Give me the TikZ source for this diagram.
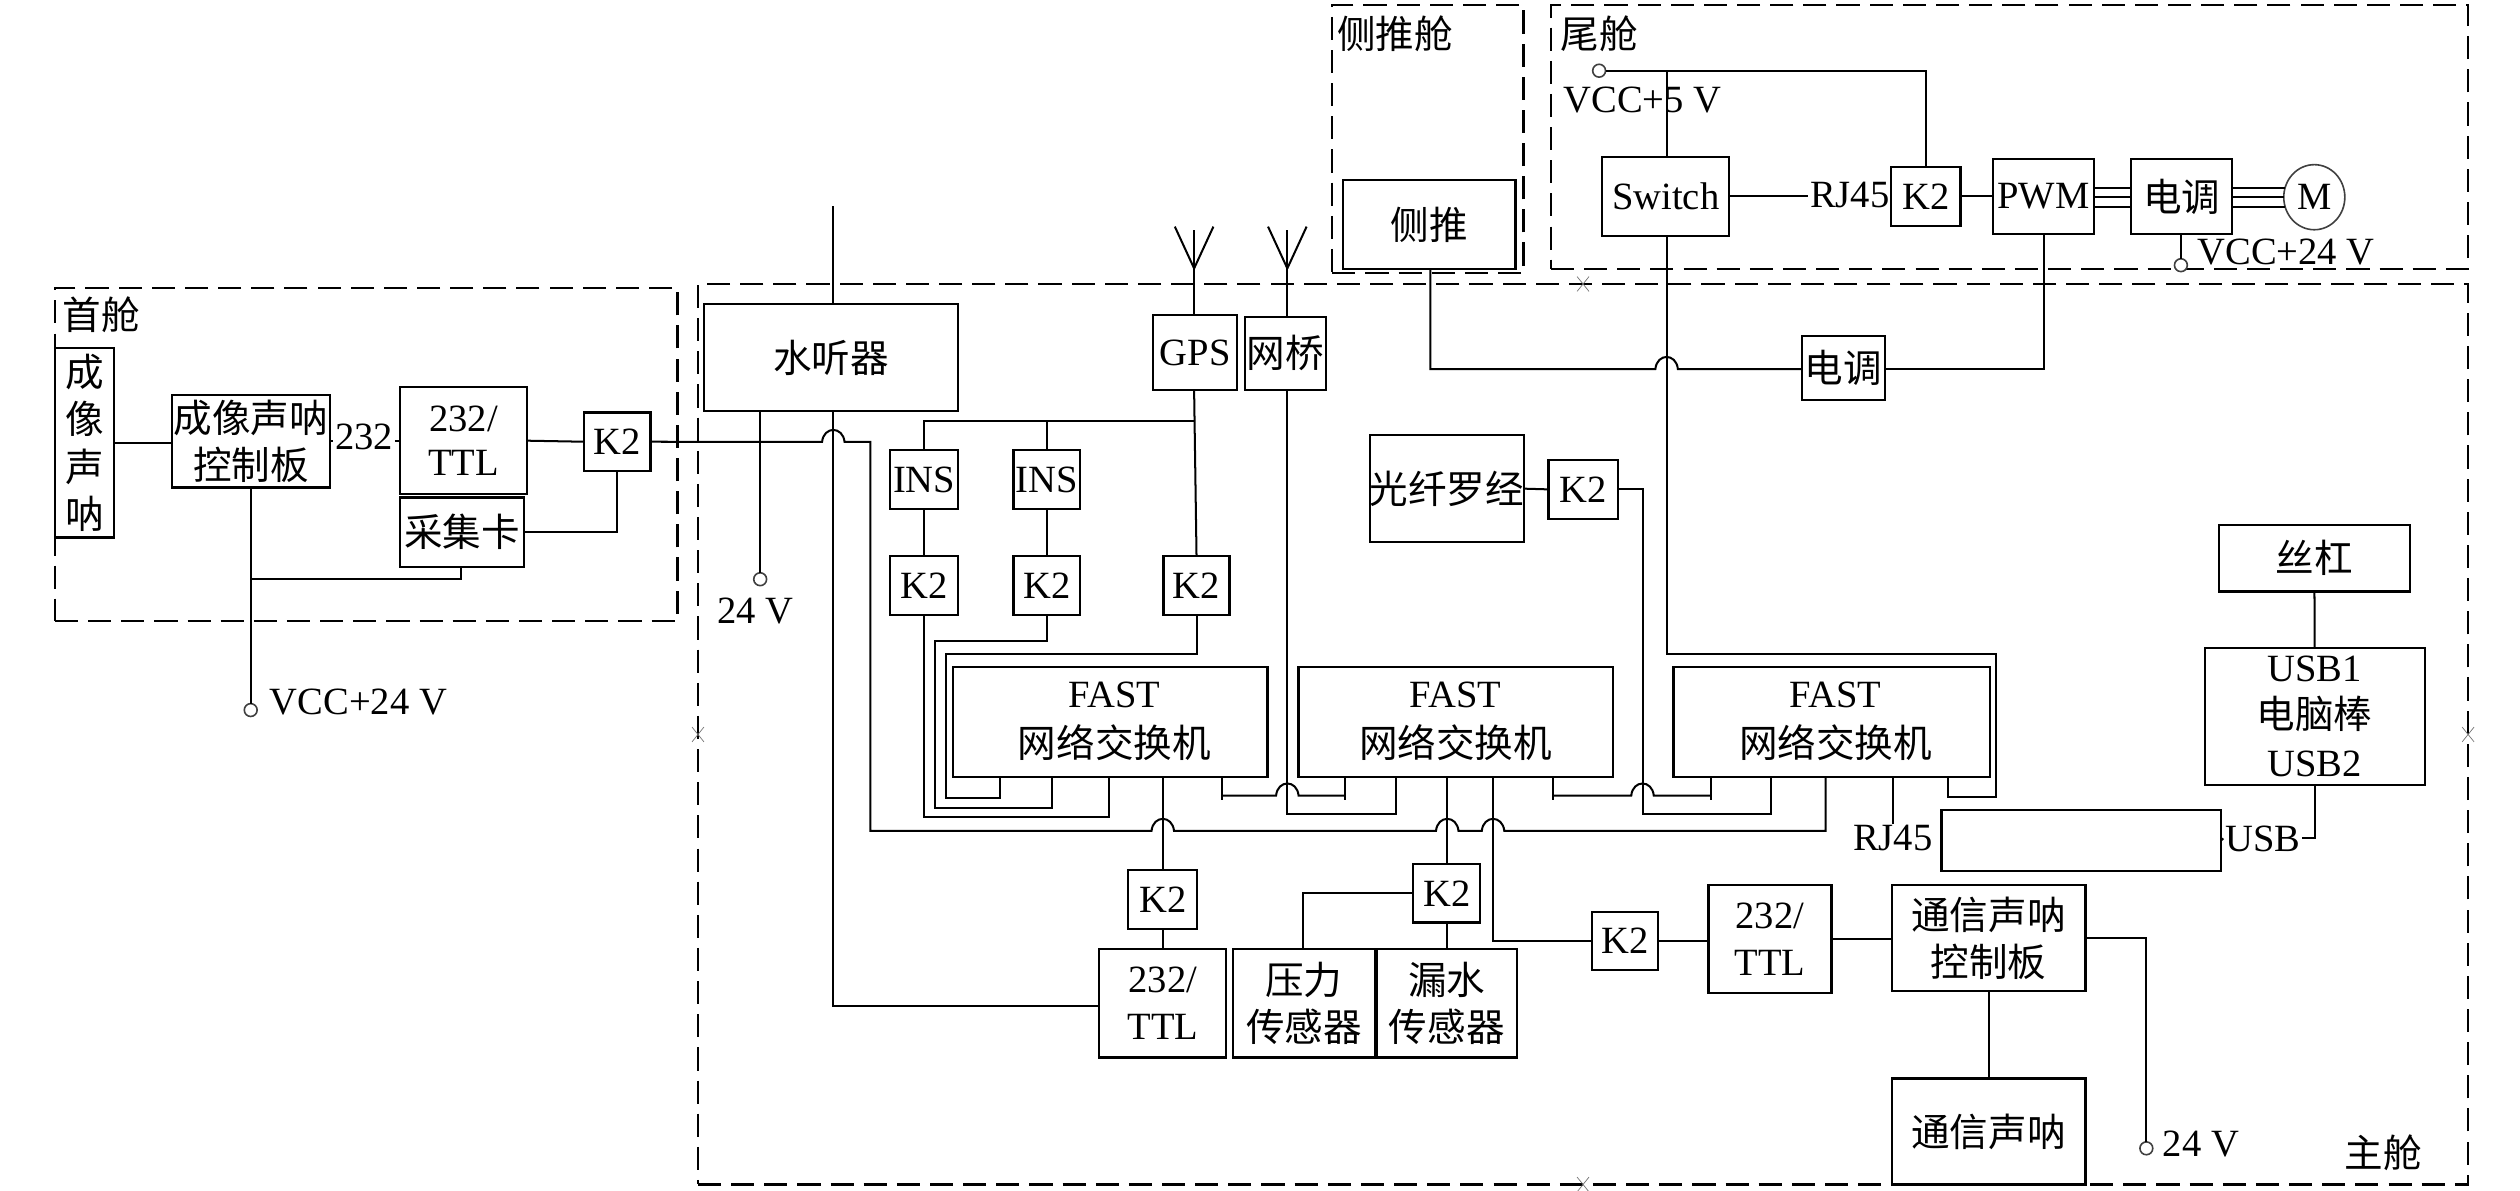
\documentclass[tikz,border=0pt]{standalone}
\usepackage{fontspec}
\setmainfont{Liberation Serif}
\newfontfamily\cjk{Noto Sans CJK SC}
\usetikzlibrary{shapes.geometric}
\newcommand\zh[1]{{\cjk #1}}
\newcommand\fsz{\fontsize{19.2}{23.5}\selectfont}
\tikzset{
  boxs/.style={draw=black,line width=1.1pt,fill=white,inner sep=0pt,outer sep=0pt,align=center,font=\fsz},
  zone/.style={draw=black,line width=1.1pt,dash pattern=on 11.5pt off 5pt,inner sep=0pt,outer sep=0pt},
  wire/.style={draw=black,line width=1pt,line cap=butt,line join=miter},
  term/.style={circle,draw=black!75,line width=0.8pt,fill=white,minimum size=6.4pt,inner sep=0pt,outer sep=0pt},
  lab/.style={inner sep=1pt,outer sep=0pt,font=\fsz,align=center},
  xmk/.style={draw=black!55,line width=0.35pt}
}
\newcommand\boxat[6]{%
  \pgfmathsetmacro\bxw{(#4-#2)*0.8}\pgfmathsetmacro\bxh{(#5-#3)*0.8}%
  \node[boxs,minimum width=\bxw pt,minimum height=\bxh pt] (#1) at ({(#2+#4)/2},{(#3+#5)/2}) {#6};}
\newcommand\zoneat[5]{%
  \pgfmathsetmacro\bxw{(#4-#2)*0.8}\pgfmathsetmacro\bxh{(#5-#3)*0.8}%
  \node[zone,minimum width=\bxw pt,minimum height=\bxh pt] (#1) at ({(#2+#4)/2},{(#3+#5)/2}) {};}
\newcommand\hmp[2]{-- ({#1-7},#2) .. controls ({#1-6},{#2-10}) and ({#1+6},{#2-10}) .. ({#1+7},#2)}
\newcommand\xm[2]{\draw[xmk] ({#1-3.7},{#2-4.6}) -- ({#1+3.7},{#2+4.6}) ({#1-3.7},{#2+4.6}) -- ({#1+3.7},{#2-4.6});}
\begin{document}
\begin{tikzpicture}[x=0.8pt,y=-0.8pt]
\useasboundingbox (0,0) rectangle (1568,740.5);
% zones
\zoneat{zbow}{34.2}{179}{421.6}{386.3}
\zoneat{zmain}{434.3}{176.7}{1535.7}{737}
\zoneat{zside}{829}{3}{948}{170}
\zoneat{ztail}{965}{3}{1535.7}{167.4}
\xm{985}{176.7}\xm{434.3}{457}\xm{1535.7}{457}\xm{985}{737}
\node[lab] (tbow) at (63,196) {\zh{首舱}};
\node[lab] (tside) at (868,21) {\zh{侧推舱}};
\node[lab] (ttail) at (995,21) {\zh{尾舱}};
\node[lab] (tmain) at (1483,717.5) {\zh{主舱}};
% bow
\boxat{son}{34.2}{216.7}{70.7}{334.5}{\zh{成}\\\zh{像}\\\zh{声}\\\zh{呐}}
\boxat{ctl}{106.8}{246}{205.4}{303.3}{\zh{成像声呐}\\\zh{控制板}}
\boxat{ttla}{249}{241}{328}{307.4}{232/\\[-1.5pt]TTL}
\boxat{cap}{249}{309.6}{325.8}{352.7}{\zh{采集卡}}
\boxat{kh}{363.3}{256.7}{404.7}{293}{K2}
\node[lab] (l232) at (226.5,272) {232};
\node[term] (t1) at (156,441.8) {};
\node[lab] (v1) at (223,436.5) {VCC+24 V};
% main upper
\boxat{hyd}{438}{189}{596}{255.8}{\zh{水听器}}
\node[term] (t2) at (473,360.4) {};
\node[lab] (v2) at (470,380) {24 V};
\boxat{gps}{717.5}{196}{769.9}{242.7}{GPS}
\boxat{brg}{774.6}{197}{825}{242.7}{\zh{网桥}}
\boxat{insa}{554}{280}{596}{316.7}{INS}
\boxat{insb}{630.6}{280}{672}{316.7}{INS}
\boxat{ka}{554}{346}{596}{382.7}{K2}
\boxat{kb}{630.6}{346}{672}{382.7}{K2}
\boxat{kc}{724}{346}{765}{382.7}{K2}
\boxat{gyro}{853.4}{270.7}{947}{337.4}{\zh{光纤罗经}}
\boxat{kf}{963.5}{286}{1006.7}{323}{K2}
\boxat{esb}{1121}{209}{1173}{249}{\zh{电调}}
\boxat{fa}{593}{414.8}{788.7}{483.3}{\hspace{4pt}FAST\\[1.5pt]\hspace{4pt}\zh{网络交换机}}
\boxat{fb}{808}{414.8}{1003.4}{483.3}{FAST\\[1.5pt]\zh{网络交换机}}
\boxat{fc}{1041.3}{414.8}{1238}{483.3}{\hspace{4pt}FAST\\[1.5pt]\hspace{4pt}\zh{网络交换机}}
\boxat{scr}{1380.6}{326.7}{1499.6}{368}{\zh{丝杠}}
\boxat{pc}{1371.8}{403}{1508.7}{488.5}{USB1\\\zh{电脑棒}\\USB2}
\boxat{blk}{1208}{504}{1382}{541.8}{}
\node[lab] (lrj) at (1177.7,521.7) {RJ45};
\node[lab] (lusb) at (1408,521.7) {USB};
% side and tail
\boxat{sid}{835.6}{112}{943}{167.6}{\zh{侧推}}
\boxat{sw}{997}{97.5}{1076}{146.8}{Switch}
\boxat{kt}{1176.7}{103.7}{1219.8}{140.6}{K2}
\boxat{pwm}{1240}{98.7}{1302.7}{145.8}{PWM}
\boxat{esa}{1326}{98.7}{1389}{145.8}{\zh{电调}}
\node[ellipse,draw=black!75,line width=0.8pt,minimum width=30.4pt,minimum height=32.4pt,inner sep=0pt,outer sep=0pt,font=\fsz] (mot) at (1440,122.7) {M};
\node[lab] (lrt) at (1151,121.5) {RJ45};
\node[term] (t3) at (995,44) {};
\node[lab] (v3) at (1022,62.2) {VCC+5 V};
\node[term] (t4) at (1357,165) {};
\node[lab] (v4) at (1422.5,156.6) {VCC+24 V};
% main lower
\boxat{kd}{702}{541.4}{745}{578}{K2}
\boxat{ttlb}{684}{590.6}{763}{658}{232/\\TTL}
\boxat{pre}{767}{590.6}{855.7}{658}{\zh{压力}\\\zh{传感器}}
\boxat{lek}{856.5}{590.6}{944}{658}{\zh{漏水}\\\zh{传感器}}
\boxat{ke}{879.4}{537.6}{921}{574}{K2}
\boxat{kg}{990.6}{567.5}{1031.7}{603.7}{K2}
\boxat{ttlc}{1063}{550.7}{1139.6}{618}{232/\\TTL}
\boxat{cct}{1177}{550.7}{1297.6}{616.7}{\zh{通信声呐}\\\zh{控制板}}
\boxat{com}{1177}{671}{1297.6}{737}{\zh{通信声呐}}
\node[term] (t5) at (1335.5,714.5) {};
\node[lab] (v5) at (1369.5,712) {24 V};
% antennas
\coordinate (ana) at (743,143);
\coordinate (anb) at (801,143);
\coordinate (afa) at (743,167);
\coordinate (afb) at (801,167);
% connectors: bow
\draw[wire] (son.east) -- (ctl.west |- son.east);
\draw[wire] (ctl.east) -- (l232.west |- ctl.east);
\draw[wire] (l232.east |- ctl.east) -- (ttla.west |- ctl.east);
\draw[wire] (ttla.east) -- (kh.west);
\draw[wire] (ctl.south -| t1) -- (t1.north);
\draw[wire] (cap.south -| 287,0) |- (t1 |- 0,360.5);
\draw[wire] (cap.east) -| (kh.south);
\draw[wire] (kh.east) \hmp{518.5}{275} -- (541.5,275) -- (541.5,517) \hmp{723.5}{517} \hmp{900.5}{517} \hmp{929}{517} -- (1136,517) -- (fc.south -| 1136,0);
% hydrophone
\draw[wire] (hyd.north -| 518.5,0) -- (518.5,128);
\draw[wire] (hyd.south -| t2) -- (t2.north);
\draw[wire] (hyd.south -| 518.5,0) -- (518.5,626) -- (ttlb.west |- 0,626);
% antennas and bridge
\draw[wire] (gps.north -| ana) -- (ana);
\draw[wire] (afa) -- (731,141) (afa) -- (755,141);
\draw[wire] (brg.north -| anb) -- (anb);
\draw[wire] (afb) -- (789,141) (afb) -- (813,141);
\draw[wire] (gps.south -| 743,0) -- (kc.north);
\draw[wire] (743,262) -| (insa.north);
\draw[wire] (insb.north) -- (insb.north |- 0,262);
\draw[wire] (insa.south) -- (ka.north);
\draw[wire] (insb.south) -- (kb.north);
\draw[wire] (ka.south) -- (ka.south |- 0,508.6) -- (690,508.6) -- (fa.south -| 690,0);
\draw[wire] (kb.south) -- (kb.south |- 0,399) -- (582,399) -- (582,503) -- (654.8,503) -- (fa.south -| 654.8,0);
\draw[wire] (kc.south) -- (kc.south |- 0,407) -- (588.4,407) -- (588.4,496.5) -- (622,496.5) -- (fa.south -| 622,0);
\draw[wire] (fa.south -| kd.north) -- (kd.north);
\draw[wire] (kd.south) -- (ttlb.north -| kd.south);
% links between switches
\draw[wire] (fa.south -| 760.5,0) -- (760.5,498);
\draw[wire] (760.5,495) \hmp{801}{495} -- (837,495);
\draw[wire] (fb.south -| 837,0) -- (837,498);
\draw[wire] (brg.south -| 801,0) -- (801,506.5) -- (868.7,506.5) -- (fb.south -| 868.7,0);
\draw[wire] (fb.south -| ke.north) -- (ke.north);
\draw[wire] (ke.south) -- (lek.north -| ke.south);
\draw[wire] (ke.west) -| (pre.north -| 811,0);
\draw[wire] (fb.south -| 929,0) -- (929,585.6) -- (kg.west |- 0,585.6);
\draw[wire] (kg.east) -- (ttlc.west |- kg.east);
\draw[wire] (ttlc.east) -- (cct.west |- ttlc.east);
\draw[wire] (cct.south) -- (com.north);
\draw[wire] (cct.east) -| (t5.north);
\draw[wire] (fb.south -| 966,0) -- (966,498);
\draw[wire] (966,495) \hmp{1022}{495} -- (1064.7,495);
\draw[wire] (fc.south -| 1064.7,0) -- (1064.7,498);
\draw[wire] (gyro.east) -- (kf.west);
\draw[wire] (kf.east) -- (1022,304.5) -- (1022,506.5) -- (1102,506.5) -- (fc.south -| 1102,0);
\draw[wire] (sw.south -| 1037,0) -- (1037,407) -- (1242,407) -- (1242,496) -- (1212,496) -- (fc.south -| 1212,0);
\draw[wire] (fc.south -| lrj) -- (lrj.north);
% usb
\draw[wire] (scr.south) -- (pc.north);
\draw[wire] (blk.east) -- (lusb.west);
\draw[wire] (lusb.east) -| (pc.south);
% side and tail
\draw[wire] (sid.south -| 890,0) -- (890,229.6) \hmp{1037}{229.6} -- (esb.west |- 0,229.6);
\draw[wire] (esb.east |- 0,229.6) -- (1272,229.6) -- (pwm.south -| 1272,0);
\draw[wire] (t3.east) -- (kt.north |- t3.east) -- (kt.north);
\draw[wire] (sw.north -| 1037,0) -- (1037,44);
\draw[wire] (sw.east) -- (lrt.west |- sw.east);
\draw[wire] (lrt.east |- kt.west) -- (kt.west);
\draw[wire] (kt.east) -- (pwm.west |- kt.east);
\draw[wire] (pwm.east |- 0,117) -- (esa.west |- 0,117);
\draw[wire] (pwm.east |- 0,122.4) -- (esa.west |- 0,122.4);
\draw[wire] (pwm.east |- 0,128.6) -- (esa.west |- 0,128.6);
\draw[wire] (esa.east |- 0,117) -- (1422,117);
\draw[wire] (esa.east |- 0,122.4) -- (mot.west |- 0,122.4);
\draw[wire] (esa.east |- 0,128.6) -- (1422,128.6);
\draw[wire] (esa.south -| t4) -- (t4.north);
\end{tikzpicture}
\end{document}
